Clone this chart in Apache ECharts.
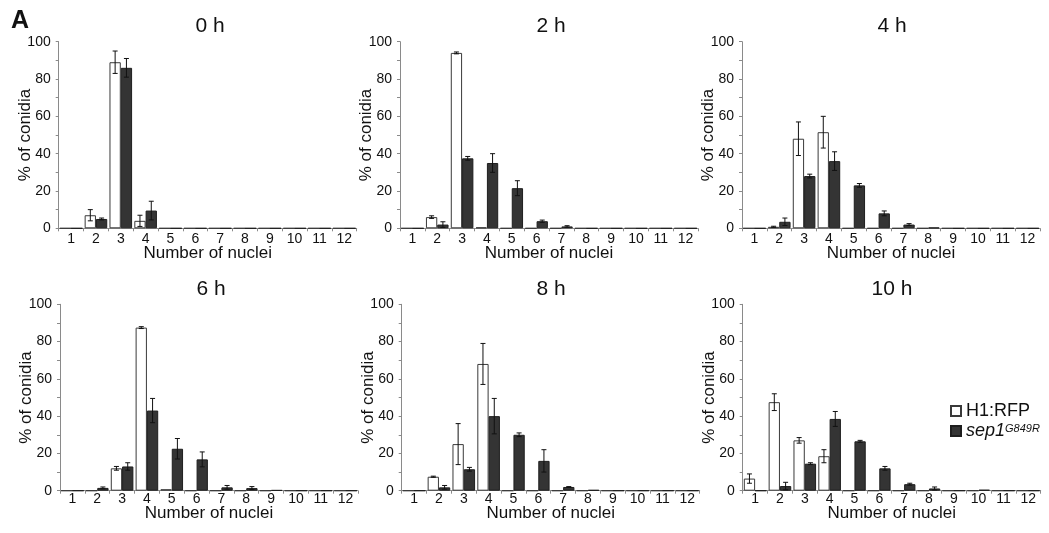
<!DOCTYPE html>
<html>
<head>
<meta charset="utf-8">
<title>Nuclei per conidium over time</title>
<script src="https://cdn.jsdelivr.net/npm/echarts@6/dist/echarts.min.js"></script>
<style>
  html, body { margin: 0; padding: 0; background: #fff; }
  #chart { width: 1049px; height: 533px; }
</style>
</head>
<body>
<div id="chart"></div>
<script>
// Number of nuclei per conidium (x categories)
const nuclei = ['1', '2', '3', '4', '5', '6', '7', '8', '9', '10', '11', '12'];
const panelTitles = ['0 h', '2 h', '4 h', '6 h', '8 h', '10 h'];
const yTicks = [0, 20, 40, 60, 80, 100];

const RFP = 'H1:RFP';
const SEP = 'sep1G849R';

// Percent of conidia (mean) and error (SD) per time point
const rfp0h    = [0, 7, 89, 4, 0, 0, 0, 0, 0, 0, 0, 0];
const rfp0hErr = [0, 3, 6, 3, 0, 0, 0, 0, 0, 0, 0, 0];
const sep0h    = [0, 5, 86, 9.5, 0, 0, 0, 0, 0, 0, 0, 0];
const sep0hErr = [0, 0.5, 5, 5, 0, 0, 0, 0, 0, 0, 0, 0];

const rfp2h    = [0, 6, 94, 0.5, 0, 0, 0, 0, 0, 0, 0, 0];
const rfp2hErr = [0, 0.7, 0.5, 0, 0, 0, 0, 0, 0, 0, 0, 0];
const sep2h    = [0, 2, 37.5, 35, 21.5, 3.8, 1, 0, 0, 0, 0, 0];
const sep2hErr = [0, 1.5, 1, 5, 4, 0.6, 0.4, 0, 0, 0, 0, 0];

const rfp4h    = [0, 0.8, 48, 51.5, 0, 0, 0, 0, 0, 0, 0, 0];
const rfp4hErr = [0, 0.3, 9, 8.5, 0, 0, 0, 0, 0, 0, 0, 0];
const sep4h    = [0, 3.5, 28, 36, 23, 8, 2, 0.4, 0, 0, 0, 0];
const sep4hErr = [0, 2, 1, 5, 1, 1.3, 0.5, 0, 0, 0, 0, 0];

const rfp6h    = [0, 0, 12, 87.5, 0.8, 0, 0, 0, 0, 0, 0, 0];
const rfp6hErr = [0, 0, 1, 0.5, 0, 0, 0, 0, 0, 0, 0, 0];
const sep6h    = [0, 1.5, 13, 43, 22.5, 16.8, 1.8, 1.4, 0.3, 0, 0, 0];
const sep6hErr = [0, 0.5, 2, 6.5, 5.5, 4, 1, 0.8, 0, 0, 0, 0];

const rfp8h    = [0, 7.5, 25, 68, 0, 0, 0, 0, 0, 0, 0, 0];
const rfp8hErr = [0, 0.3, 11, 11, 0, 0, 0, 0, 0, 0, 0, 0];
const sep8h    = [0, 1.8, 11.5, 40, 30, 16, 2, 0.4, 0, 0, 0, 0];
const sep8hErr = [0, 1, 1, 9.5, 1, 6, 0.2, 0, 0, 0, 0, 0];

const rfp10h    = [6.5, 47.5, 27, 18.5, 0, 0, 0, 0, 0, 0, 0, 0];
const rfp10hErr = [2.5, 4.5, 1.5, 3.5, 0, 0, 0, 0, 0, 0, 0, 0];
const sep10h    = [0, 2.5, 14.5, 38.5, 26.5, 12, 3.5, 1.2, 0, 0.5, 0, 0];
const sep10hErr = [0, 2, 0.5, 4, 0.5, 1, 0.5, 0.8, 0, 0, 0, 0];

const panels = [
  { rfp: rfp0h,  rfpErr: rfp0hErr,  sep: sep0h,  sepErr: sep0hErr },
  { rfp: rfp2h,  rfpErr: rfp2hErr,  sep: sep2h,  sepErr: sep2hErr },
  { rfp: rfp4h,  rfpErr: rfp4hErr,  sep: sep4h,  sepErr: sep4hErr },
  { rfp: rfp6h,  rfpErr: rfp6hErr,  sep: sep6h,  sepErr: sep6hErr },
  { rfp: rfp8h,  rfpErr: rfp8hErr,  sep: sep8h,  sepErr: sep8hErr },
  { rfp: rfp10h, rfpErr: rfp10hErr, sep: sep10h, sepErr: sep10hErr }
];

// Layout of the 2 x 3 panel grid
const FONT = '"Liberation Sans", Arial, Helvetica, sans-serif';
const PLOT_W = 298;
const gridBoxes = [
  { left: 58.7,  top: 41.7,  height: 186.6 },
  { left: 400,   top: 41.7,  height: 186.6 },
  { left: 742,   top: 41.7,  height: 186.6 },
  { left: 60,    top: 304.3, height: 186.4 },
  { left: 401.7, top: 304.3, height: 186.4 },
  { left: 742.7, top: 304.3, height: 186.4 }
];
const titleCenters = [210, 551, 892, 211, 551, 892];
const titleTops = [16, 16, 16, 279, 279, 279];
const CATEGORY_GAP = 0.09;
const AXIS_GRAY = '#8a8a8a';

function errorBars(side) {
  return function (params, api) {
    const idx = api.value(0);
    const v = api.value(1);
    const e = api.value(2);
    if (!e) return null;
    const bw = api.size([1, 0])[0];
    const barW = bw * (1 - CATEGORY_GAP) / 2;
    const x = api.coord([idx, v])[0] + side * barW / 2;
    const hi = api.coord([idx, v + e])[1];
    const lo = api.coord([idx, Math.max(0, v - e)])[1];
    const cap = 2.5;
    const style = { stroke: '#111', lineWidth: 1 };
    return {
      type: 'group',
      children: [
        { type: 'line', shape: { x1: x, y1: hi, x2: x, y2: lo }, style: style },
        { type: 'line', shape: { x1: x - cap, y1: hi, x2: x + cap, y2: hi }, style: style },
        { type: 'line', shape: { x1: x - cap, y1: lo, x2: x + cap, y2: lo }, style: style }
      ]
    };
  };
}

const grid = [], xAxis = [], yAxis = [], series = [], title = [];

panels.forEach(function (p, i) {
  const g = gridBoxes[i];
  const lowerRow = i >= 3;
  grid.push({ left: g.left, top: g.top, width: PLOT_W, height: g.height, containLabel: false });
  title.push({
    text: panelTitles[i], left: titleCenters[i], top: titleTops[i], textAlign: 'center', padding: 0,
    textStyle: { fontSize: 21, fontWeight: 'normal', color: '#111', fontFamily: FONT }
  });
  xAxis.push({
    type: 'category', gridIndex: i, data: nuclei,
    name: 'Number of nuclei', nameLocation: 'middle', nameGap: lowerRow ? 14 : 17,
    nameMoveOverlap: false,
    nameTextStyle: { fontSize: 17, color: '#111', fontFamily: FONT },
    axisLine: { lineStyle: { color: AXIS_GRAY, width: 1 } },
    axisTick: { show: true, length: 3, lineStyle: { color: AXIS_GRAY } },
    axisLabel: { fontSize: 14, color: '#111', margin: lowerRow ? 1 : 4, interval: 0, fontFamily: FONT },
    splitLine: { show: false }
  });
  yAxis.push({
    type: 'value', gridIndex: i, min: yTicks[0], max: yTicks[yTicks.length - 1], interval: 20,
    name: '% of conidia', nameLocation: 'middle', nameGap: 25,
    nameMoveOverlap: false,
    nameTextStyle: { fontSize: 17, color: '#111', fontFamily: FONT },
    axisLine: { show: true, lineStyle: { color: AXIS_GRAY, width: 1 } },
    axisTick: { show: true, length: 3, lineStyle: { color: AXIS_GRAY } },
    minorTick: { show: true, splitNumber: 2, length: 3, lineStyle: { color: AXIS_GRAY } },
    axisLabel: { fontSize: 14, color: '#111', margin: 8, fontFamily: FONT },
    splitLine: { show: false }
  });
  series.push({
    name: RFP, type: 'bar', xAxisIndex: i, yAxisIndex: i, data: p.rfp,
    barGap: '0%', barCategoryGap: (CATEGORY_GAP * 100) + '%',
    itemStyle: { color: '#ffffff', borderColor: '#3a3a3a', borderWidth: 1 },
    emphasis: { disabled: true }, animation: false
  });
  series.push({
    name: SEP, type: 'bar', xAxisIndex: i, yAxisIndex: i, data: p.sep,
    barGap: '0%', barCategoryGap: (CATEGORY_GAP * 100) + '%',
    itemStyle: { color: '#343434', borderColor: '#1e1e1e', borderWidth: 1 },
    emphasis: { disabled: true }, animation: false
  });
  series.push({
    name: 'err-rfp-' + i, type: 'custom', xAxisIndex: i, yAxisIndex: i, z: 5,
    renderItem: errorBars(-1), encode: { x: 0, y: 1 },
    data: p.rfp.map(function (v, k) { return [k, v, p.rfpErr[k]]; }),
    animation: false, silent: true
  });
  series.push({
    name: 'err-sep-' + i, type: 'custom', xAxisIndex: i, yAxisIndex: i, z: 5,
    renderItem: errorBars(1), encode: { x: 0, y: 1 },
    data: p.sep.map(function (v, k) { return [k, v, p.sepErr[k]]; }),
    animation: false, silent: true
  });
});

const chart = echarts.init(document.getElementById('chart'), null, { renderer: 'canvas' });
chart.setOption({
  backgroundColor: '#ffffff',
  animation: false,
  textStyle: { fontFamily: FONT },
  title: title,
  grid: grid,
  xAxis: xAxis,
  yAxis: yAxis,
  series: series,
  legend: {
    data: [RFP, SEP], orient: 'vertical', left: 950, top: 402,
    icon: 'rect', itemWidth: 10, itemHeight: 10, itemGap: 2, selectedMode: false, padding: 0,
    formatter: function (name) { return name === SEP ? '{it|sep1}{sup|G849R}' : name; },
    textStyle: {
      fontSize: 18, color: '#111', fontFamily: FONT, lineHeight: 16,
      rich: {
        it: { fontSize: 18, fontStyle: 'italic', color: '#111', fontFamily: FONT, lineHeight: 16 },
        sup: { fontSize: 11, fontStyle: 'italic', color: '#111', fontFamily: FONT, verticalAlign: 'top', lineHeight: 10 }
      }
    }
  },
  graphic: [{
    type: 'text', left: 11, top: 9,
    style: { text: 'A', font: 'bold 25px ' + FONT, fill: '#111' }
  }]
});
</script>
</body>
</html>
